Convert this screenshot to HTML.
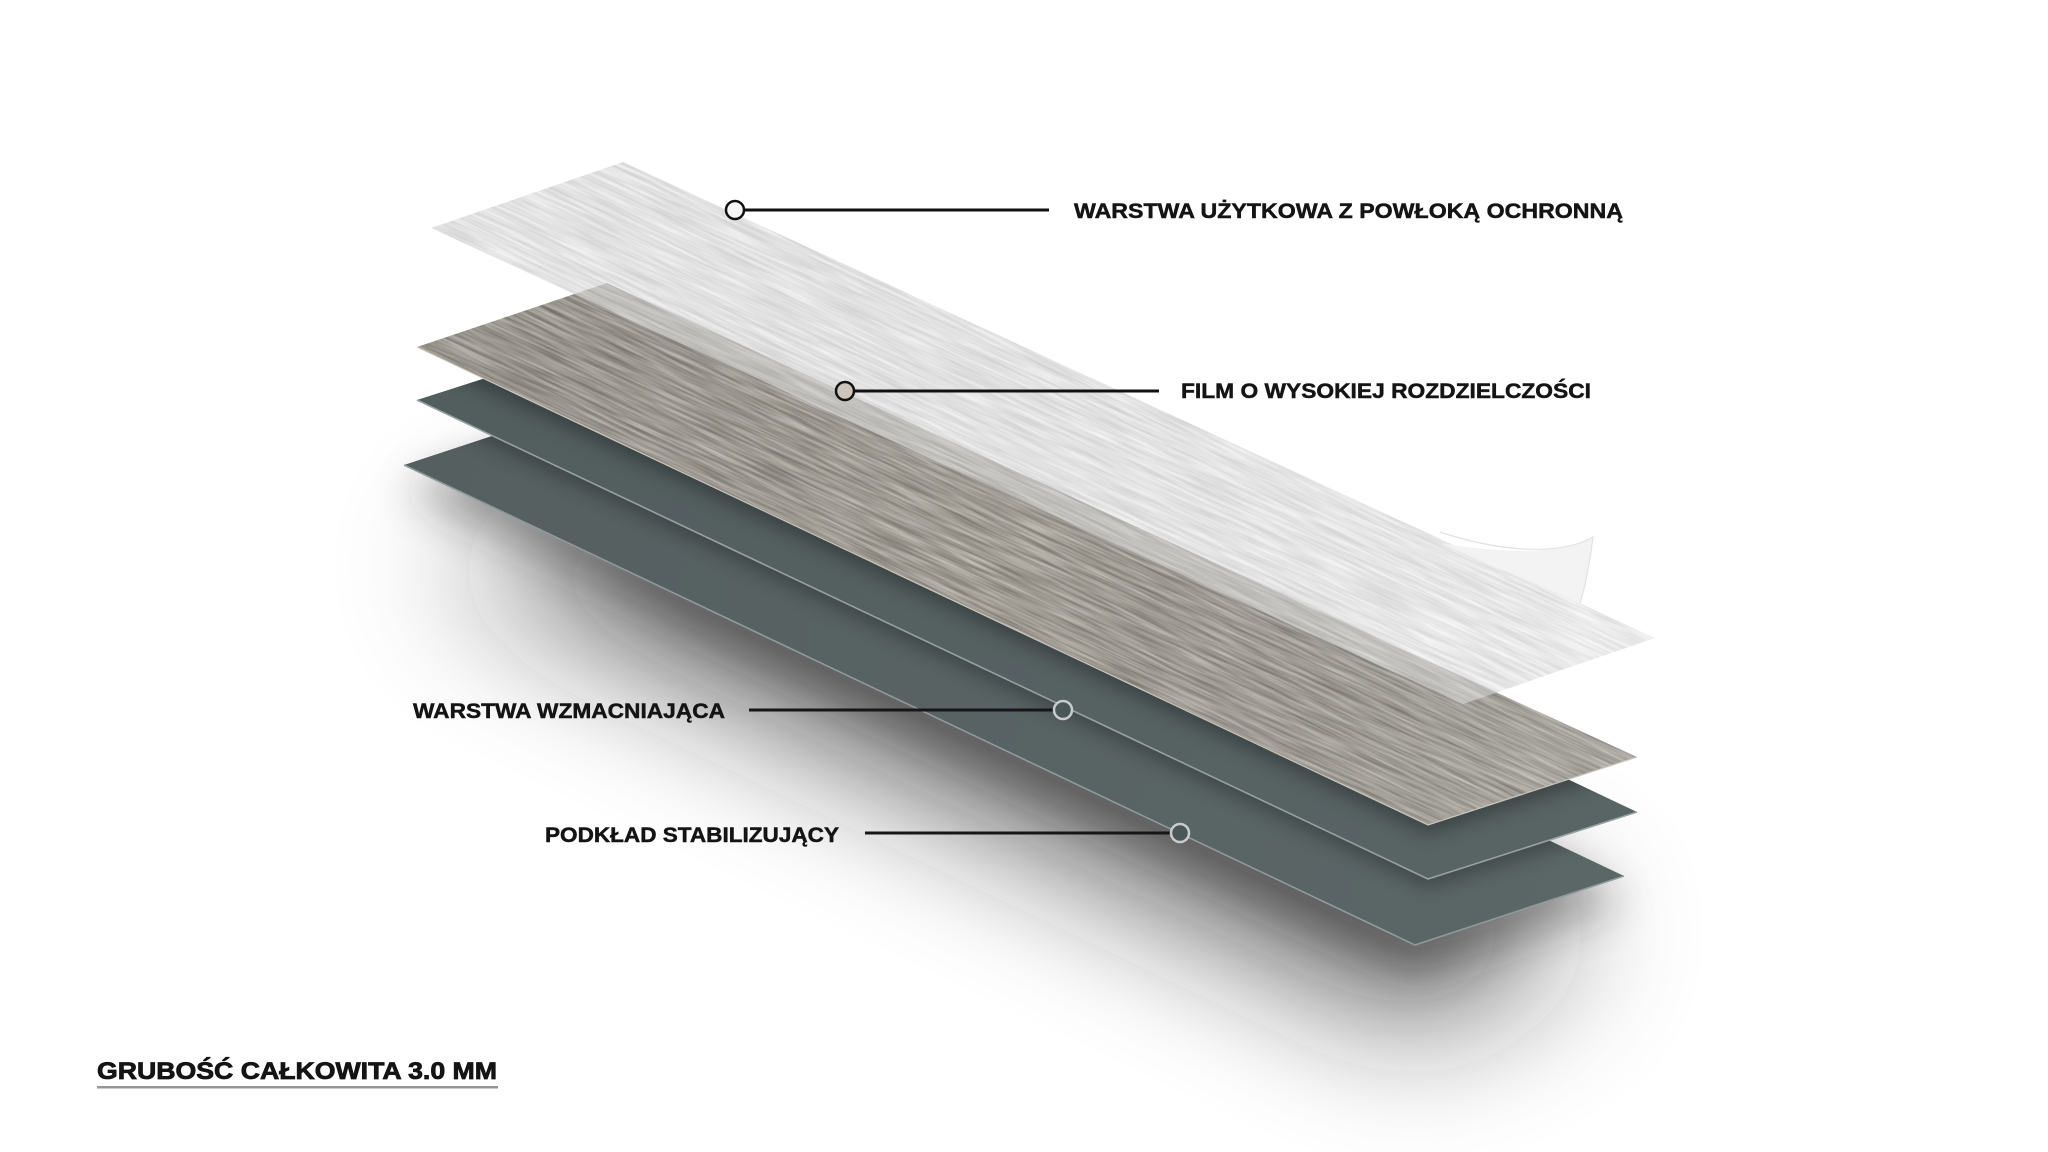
<!DOCTYPE html>
<html>
<head>
<meta charset="utf-8">
<style>
  html,body{margin:0;padding:0;background:#ffffff;}
  svg{display:block;}
  .lbl{font-family:"Liberation Sans",Arial,sans-serif;font-weight:700;fill:#141414;stroke:#141414;stroke-width:0.5;}
</style>
</head>
<body>
<svg width="2048" height="1152" viewBox="0 0 2048 1152" xmlns="http://www.w3.org/2000/svg">
  <defs>
    <filter id="blurS" filterUnits="userSpaceOnUse" x="0" y="0" width="2048" height="1152">
      <feGaussianBlur stdDeviation="70"/>
    </filter>
    <filter id="blurM" filterUnits="userSpaceOnUse" x="0" y="0" width="2048" height="1152">
      <feGaussianBlur stdDeviation="22"/>
    </filter>
    <filter id="blur10" filterUnits="userSpaceOnUse" x="0" y="0" width="2048" height="1152">
      <feGaussianBlur stdDeviation="10"/>
    </filter>
    <filter id="woodF" x="0" y="0" width="1" height="1" color-interpolation-filters="sRGB">
      <feTurbulence type="fractalNoise" baseFrequency="0.015 0.35" numOctaves="3" seed="7"/>
      <feColorMatrix type="matrix" values="0.42 0 0 0 0.42  0.42 0 0 0 0.405  0.42 0 0 0 0.375  0 0 0 0 1"/>
    </filter>
    <filter id="whiteF" x="0" y="0" width="1" height="1" color-interpolation-filters="sRGB">
      <feTurbulence type="fractalNoise" baseFrequency="0.015 0.35" numOctaves="3" seed="3"/>
      <feColorMatrix type="matrix" values="0.2 0 0 0 0.81  0.2 0 0 0 0.81  0.2 0 0 0 0.81  0 0 0 0 1"/>
    </filter>

    <clipPath id="cWhite"><polygon points="431,228 623,162 1655,638 1463,704"/></clipPath>
    <clipPath id="cWood"><polygon points="417,347 607,283 1637,757 1428,825"/></clipPath>
    <clipPath id="cD1"><polygon points="417,400 626,333 1637,812 1428,879"/></clipPath>
    <clipPath id="cD2"><polygon points="404,465 613,396 1624,876 1415,945"/></clipPath>

    <linearGradient id="gD1" gradientUnits="userSpaceOnUse" x1="417" y1="400" x2="1637" y2="812">
      <stop offset="0" stop-color="#525d5e"/>
      <stop offset="1" stop-color="#596465"/>
    </linearGradient>
    <linearGradient id="gD2" gradientUnits="userSpaceOnUse" x1="404" y1="465" x2="1624" y2="876">
      <stop offset="0" stop-color="#555f60"/>
      <stop offset="1" stop-color="#5b6667"/>
    </linearGradient>
    <linearGradient id="gWoodOv" gradientUnits="userSpaceOnUse" x1="417" y1="347" x2="1637" y2="757">
      <stop offset="0" stop-color="#000" stop-opacity="0.06"/>
      <stop offset="0.5" stop-color="#000" stop-opacity="0"/>
      <stop offset="1" stop-color="#fff" stop-opacity="0.12"/>
    </linearGradient>
    <linearGradient id="gWhiteOv" gradientUnits="userSpaceOnUse" x1="431" y1="228" x2="1655" y2="638">
      <stop offset="0" stop-color="#000" stop-opacity="0.02"/>
      <stop offset="1" stop-color="#fff" stop-opacity="0.10"/>
    </linearGradient>
  </defs>

  <rect width="2048" height="1152" fill="#ffffff"/>

  <!-- soft shadow -->
  <polygon points="440,560 690,500 1590,930 1420,1030" fill="#1e1e1e" opacity="0.68" filter="url(#blurS)"/>
  <polygon points="404,490 613,421 1624,901 1415,975" fill="#1e1e1e" opacity="0.4" filter="url(#blurM)"/>

  <!-- dark layer 2 (bottom) -->
  <polygon points="404,465 613,396 1624,876 1415,945" fill="url(#gD2)"/>
  <g clip-path="url(#cD2)">
    <polygon points="417,400 626,333 1637,812 1428,879" fill="#000" opacity="0.3" transform="translate(0,8)" filter="url(#blur10)"/>
  </g>
  <polyline points="404,465 1415,945 1624,876" fill="none" stroke="#8f9a9a" stroke-width="1.6"/>

  <!-- dark layer 1 -->
  <polygon points="417,400 626,333 1637,812 1428,879" fill="url(#gD1)"/>
  <g clip-path="url(#cD1)">
    <polygon points="417,347 607,283 1637,757 1428,825" fill="#000" opacity="0.35" transform="translate(0,8)" filter="url(#blur10)"/>
  </g>
  <polyline points="417,400 1428,879 1637,812" fill="none" stroke="#97a1a1" stroke-width="1.6"/>

  <!-- wood layer -->
  <g clip-path="url(#cWood)">
    <g transform="rotate(24.9 1030 560)">
      <rect x="330" y="460" width="1380" height="200" filter="url(#woodF)"/>
    </g>
    <polygon points="417,347 607,283 1637,757 1428,825" fill="url(#gWoodOv)"/>
  </g>
  <polyline points="417,347 1428,825 1637,757" fill="none" stroke="#c9c5bd" stroke-width="1.2"/>

  <!-- white top layer -->
  <g clip-path="url(#cWhite)">
    <g transform="rotate(24.9 1030 560)">
      <rect x="310" y="340" width="1360" height="200" filter="url(#whiteF)"/>
    </g>
    <polygon points="431,228 623,162 1655,638 1463,704" fill="url(#gWhiteOv)"/>
    <g opacity="0.5" clip-path="url(#cWood)">
      <g transform="rotate(24.9 1030 560)">
        <rect x="330" y="460" width="1380" height="200" filter="url(#woodF)"/>
      </g>
    </g>
  </g>

  <!-- curl of the top sheet -->
  <path d="M1440,543 C1500,553 1560,556 1593,537 C1590,560 1586,585 1580,603 Z" fill="#f3f3f3"/>
  <path d="M1440,532 C1500,552 1560,556 1593,537 C1590,560 1586,585 1580,603" fill="none" stroke="#e2e2e2" stroke-width="1.2"/>

  <!-- connector 1 -->
  <line x1="744" y1="210" x2="1049" y2="210" stroke="#111" stroke-width="3"/>
  <circle cx="735" cy="210" r="9" fill="#f7f7f7" stroke="#111" stroke-width="2.5"/>
  <text class="lbl" x="1074" y="218" font-size="21.5" textLength="549" lengthAdjust="spacingAndGlyphs">WARSTWA UŻYTKOWA Z POWŁOKĄ OCHRONNĄ</text>

  <!-- connector 2 -->
  <line x1="854" y1="391" x2="1159" y2="391" stroke="#111" stroke-width="3"/>
  <circle cx="845" cy="391" r="9" fill="#cbc5bb" stroke="#111" stroke-width="2.5"/>
  <text class="lbl" x="1181" y="398" font-size="21.5" textLength="410" lengthAdjust="spacingAndGlyphs">FILM O WYSOKIEJ ROZDZIELCZOŚCI</text>

  <!-- connector 3 -->
  <line x1="749" y1="710" x2="1054" y2="710" stroke="#161616" stroke-width="3"/>
  <circle cx="1063" cy="710" r="9" fill="#4b5657" stroke="#c9cccc" stroke-width="2.5"/>
  <text class="lbl" x="413" y="718" font-size="21.5" textLength="312" lengthAdjust="spacingAndGlyphs">WARSTWA WZMACNIAJĄCA</text>

  <!-- connector 4 -->
  <line x1="865" y1="833" x2="1171" y2="833" stroke="#161616" stroke-width="3"/>
  <circle cx="1180" cy="833" r="9" fill="#4b5657" stroke="#c9cccc" stroke-width="2.5"/>
  <text class="lbl" x="545" y="842" font-size="21.5" textLength="294" lengthAdjust="spacingAndGlyphs">PODKŁAD STABILIZUJĄCY</text>

  <!-- total thickness -->
  <text class="lbl" x="97" y="1079" font-size="24" textLength="400" lengthAdjust="spacingAndGlyphs" style="stroke-width:0.8">GRUBOŚĆ CAŁKOWITA 3.0 MM</text>
  <rect x="97" y="1086" width="401" height="2.5" fill="#959595"/>
</svg>
</body>
</html>
